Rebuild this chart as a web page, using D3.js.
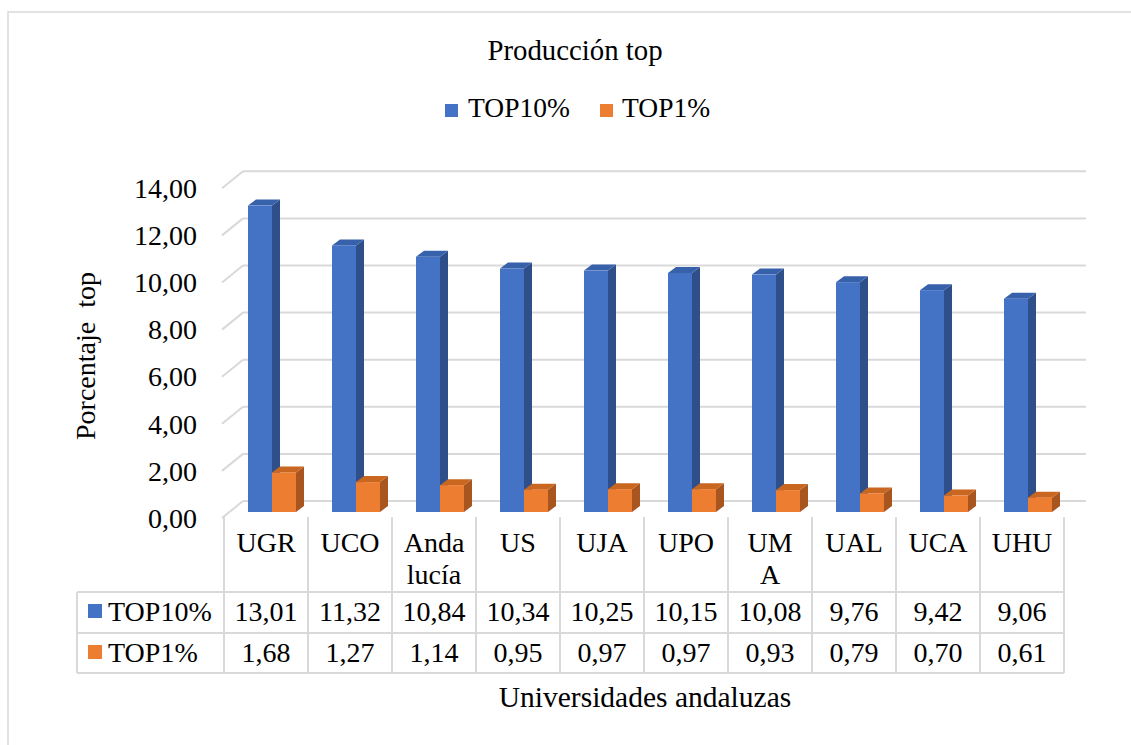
<!DOCTYPE html>
<html><head><meta charset="utf-8">
<script src="https://cdn.jsdelivr.net/npm/d3@7"></script>
<style>
body{margin:0;background:#fff;}
svg text{font-family:"Liberation Serif","Times New Roman",serif;fill:#000;}
</style></head>
<body><svg id="c" width="1131" height="745"></svg>
<script>
const categories = ["UGR","UCO","Andalucía","US","UJA","UPO","UMA","UAL","UCA","UHU"];
const categoryLines = [["UGR"],["UCO"],["Anda","lucía"],["US"],["UJA"],["UPO"],["UM","A"],["UAL"],["UCA"],["UHU"]];
const seriesNames = ["TOP10%","TOP1%"];
const top10 = [13.01,11.32,10.84,10.34,10.25,10.15,10.08,9.76,9.42,9.06];
const top1 = [1.68,1.27,1.14,0.95,0.97,0.97,0.93,0.79,0.70,0.61];
const yTicks = [0,2,4,6,8,10,12,14];
const colors = ["#4472C4","#ED7D31"];
const sideColors = ["#2E4F8A","#A8551F"];
const topColors = ["#3861AB","#C9661F"];

const svg = d3.select("#c");
const fmt = v => d3.format(".2f")(v).replace(".", ",");
const FS = 28;

// outer border
svg.append("rect").attr("x",8).attr("y",12).attr("width",1140).attr("height",760)
  .attr("fill","none").attr("stroke","#d9d9d9").attr("stroke-width",1.5);

// scales
const x = d3.scaleBand().domain(categories).range([224,1064]);
const xs = d3.scaleBand().domain(seriesNames).range([24,72]);
const unit = 23.55;
const yBar = d3.scaleLinear().domain([0,14]).range([512,512-14*unit]);
const yBack = d3.scaleLinear().domain([0,14]).range([501,501-14*unit]);
const yFront = d3.scaleLinear().domain([0,14]).range([518,518-14*unit]);
const floorDx = 21, floorDy = 17;

// gridlines (back wall + left diagonal)
const grid = svg.append("g");
yTicks.forEach(t=>{
  grid.append("line").attr("x1",243).attr("x2",1086).attr("y1",yBack(t)).attr("y2",yBack(t))
    .attr("stroke","#d9d9d9").attr("stroke-width",2);
  grid.append("line").attr("x1",243-floorDx).attr("y1",yBack(t)+floorDy).attr("x2",243).attr("y2",yBack(t))
    .attr("stroke","#d9d9d9").attr("stroke-width",2);
});

// y axis labels
const yAxis = d3.axisLeft(yFront).tickValues(yTicks).tickFormat(fmt).tickSize(0).tickPadding(8);
const gy = svg.append("g").attr("transform","translate(205,0)").call(yAxis);
gy.select(".domain").remove();
gy.selectAll("text").attr("font-size",FS).attr("font-family","Liberation Serif").attr("fill","#000").attr("dy","0.33em");

// bars 3D
const bd = 8, bdy = 6;
const data = [top10, top1];
const barsG = svg.append("g");
categories.forEach((c,i)=>{
  seriesNames.forEach((s,k)=>{
    const v = data[k][i];
    const x0 = x(c)+xs(s), w = xs.bandwidth();
    const yt = yBar(v), yb = yBar(0);
    barsG.append("path").attr("d",`M${x0+w},${yt} L${x0+w+bd},${yt-bdy} L${x0+w+bd},${yb-bdy} L${x0+w},${yb} Z`).attr("fill",sideColors[k]);
    barsG.append("path").attr("d",`M${x0},${yt} L${x0+bd},${yt-bdy} L${x0+w+bd},${yt-bdy} L${x0+w},${yt} Z`).attr("fill",topColors[k]);
    barsG.append("rect").attr("x",x0).attr("y",yt).attr("width",w).attr("height",yb-yt).attr("fill",colors[k]);
  });
});

// title
svg.append("text").attr("x",575).attr("y",60).attr("text-anchor","middle").attr("font-size",28.8).text("Producción top");

// legend
const leg = svg.append("g");
[[445,468],[600,622]].forEach((p,k)=>{
  leg.append("rect").attr("x",p[0]).attr("y",104).attr("width",13).attr("height",13).attr("fill",colors[k]);
  leg.append("text").attr("x",p[1]).attr("y",117).attr("font-size",27.5).text(seriesNames[k]);
});

// y axis title
svg.append("text").attr("transform","translate(95,356) rotate(-90)").attr("text-anchor","middle")
  .attr("font-size",FS).style("white-space","pre").text("Porcentaje  top");

// data table
const tbl = svg.append("g");
const lineC = "#d9d9d9";
const rowY = [517,592,633,673];
categories.forEach((c,i)=>{ tbl.append("line").attr("x1",x(c)).attr("x2",x(c)).attr("y1",rowY[0]).attr("y2",rowY[3]).attr("stroke",lineC).attr("stroke-width",2); });
tbl.append("line").attr("x1",1064).attr("x2",1064).attr("y1",rowY[0]).attr("y2",rowY[3]).attr("stroke",lineC).attr("stroke-width",2);
tbl.append("line").attr("x1",77).attr("x2",77).attr("y1",rowY[1]).attr("y2",rowY[3]).attr("stroke",lineC).attr("stroke-width",2);
[rowY[1],rowY[2],rowY[3]].forEach(yy=>{
  tbl.append("line").attr("x1",77).attr("x2",1064).attr("y1",yy).attr("y2",yy).attr("stroke",lineC).attr("stroke-width",2);
});
categories.forEach((c,i)=>{
  const cx = x(c)+x.bandwidth()/2;
  categoryLines[i].forEach((ln,j)=>{
    tbl.append("text").attr("x",cx).attr("y",552+j*32).attr("text-anchor","middle").attr("font-size",FS).text(ln);
  });
  tbl.append("text").attr("x",cx).attr("y",621).attr("text-anchor","middle").attr("font-size",FS).text(fmt(top10[i]));
  tbl.append("text").attr("x",cx).attr("y",662).attr("text-anchor","middle").attr("font-size",FS).text(fmt(top1[i]));
});
[[604,621],[645,662]].forEach((p,k)=>{
  tbl.append("rect").attr("x",88).attr("y",p[0]).attr("width",14).attr("height",14).attr("fill",colors[k]);
  tbl.append("text").attr("x",108).attr("y",p[1]).attr("font-size",FS).text(seriesNames[k]);
});

// x axis title
svg.append("text").attr("x",645).attr("y",707).attr("text-anchor","middle").attr("font-size",29.5).text("Universidades andaluzas");
</script></body></html>
